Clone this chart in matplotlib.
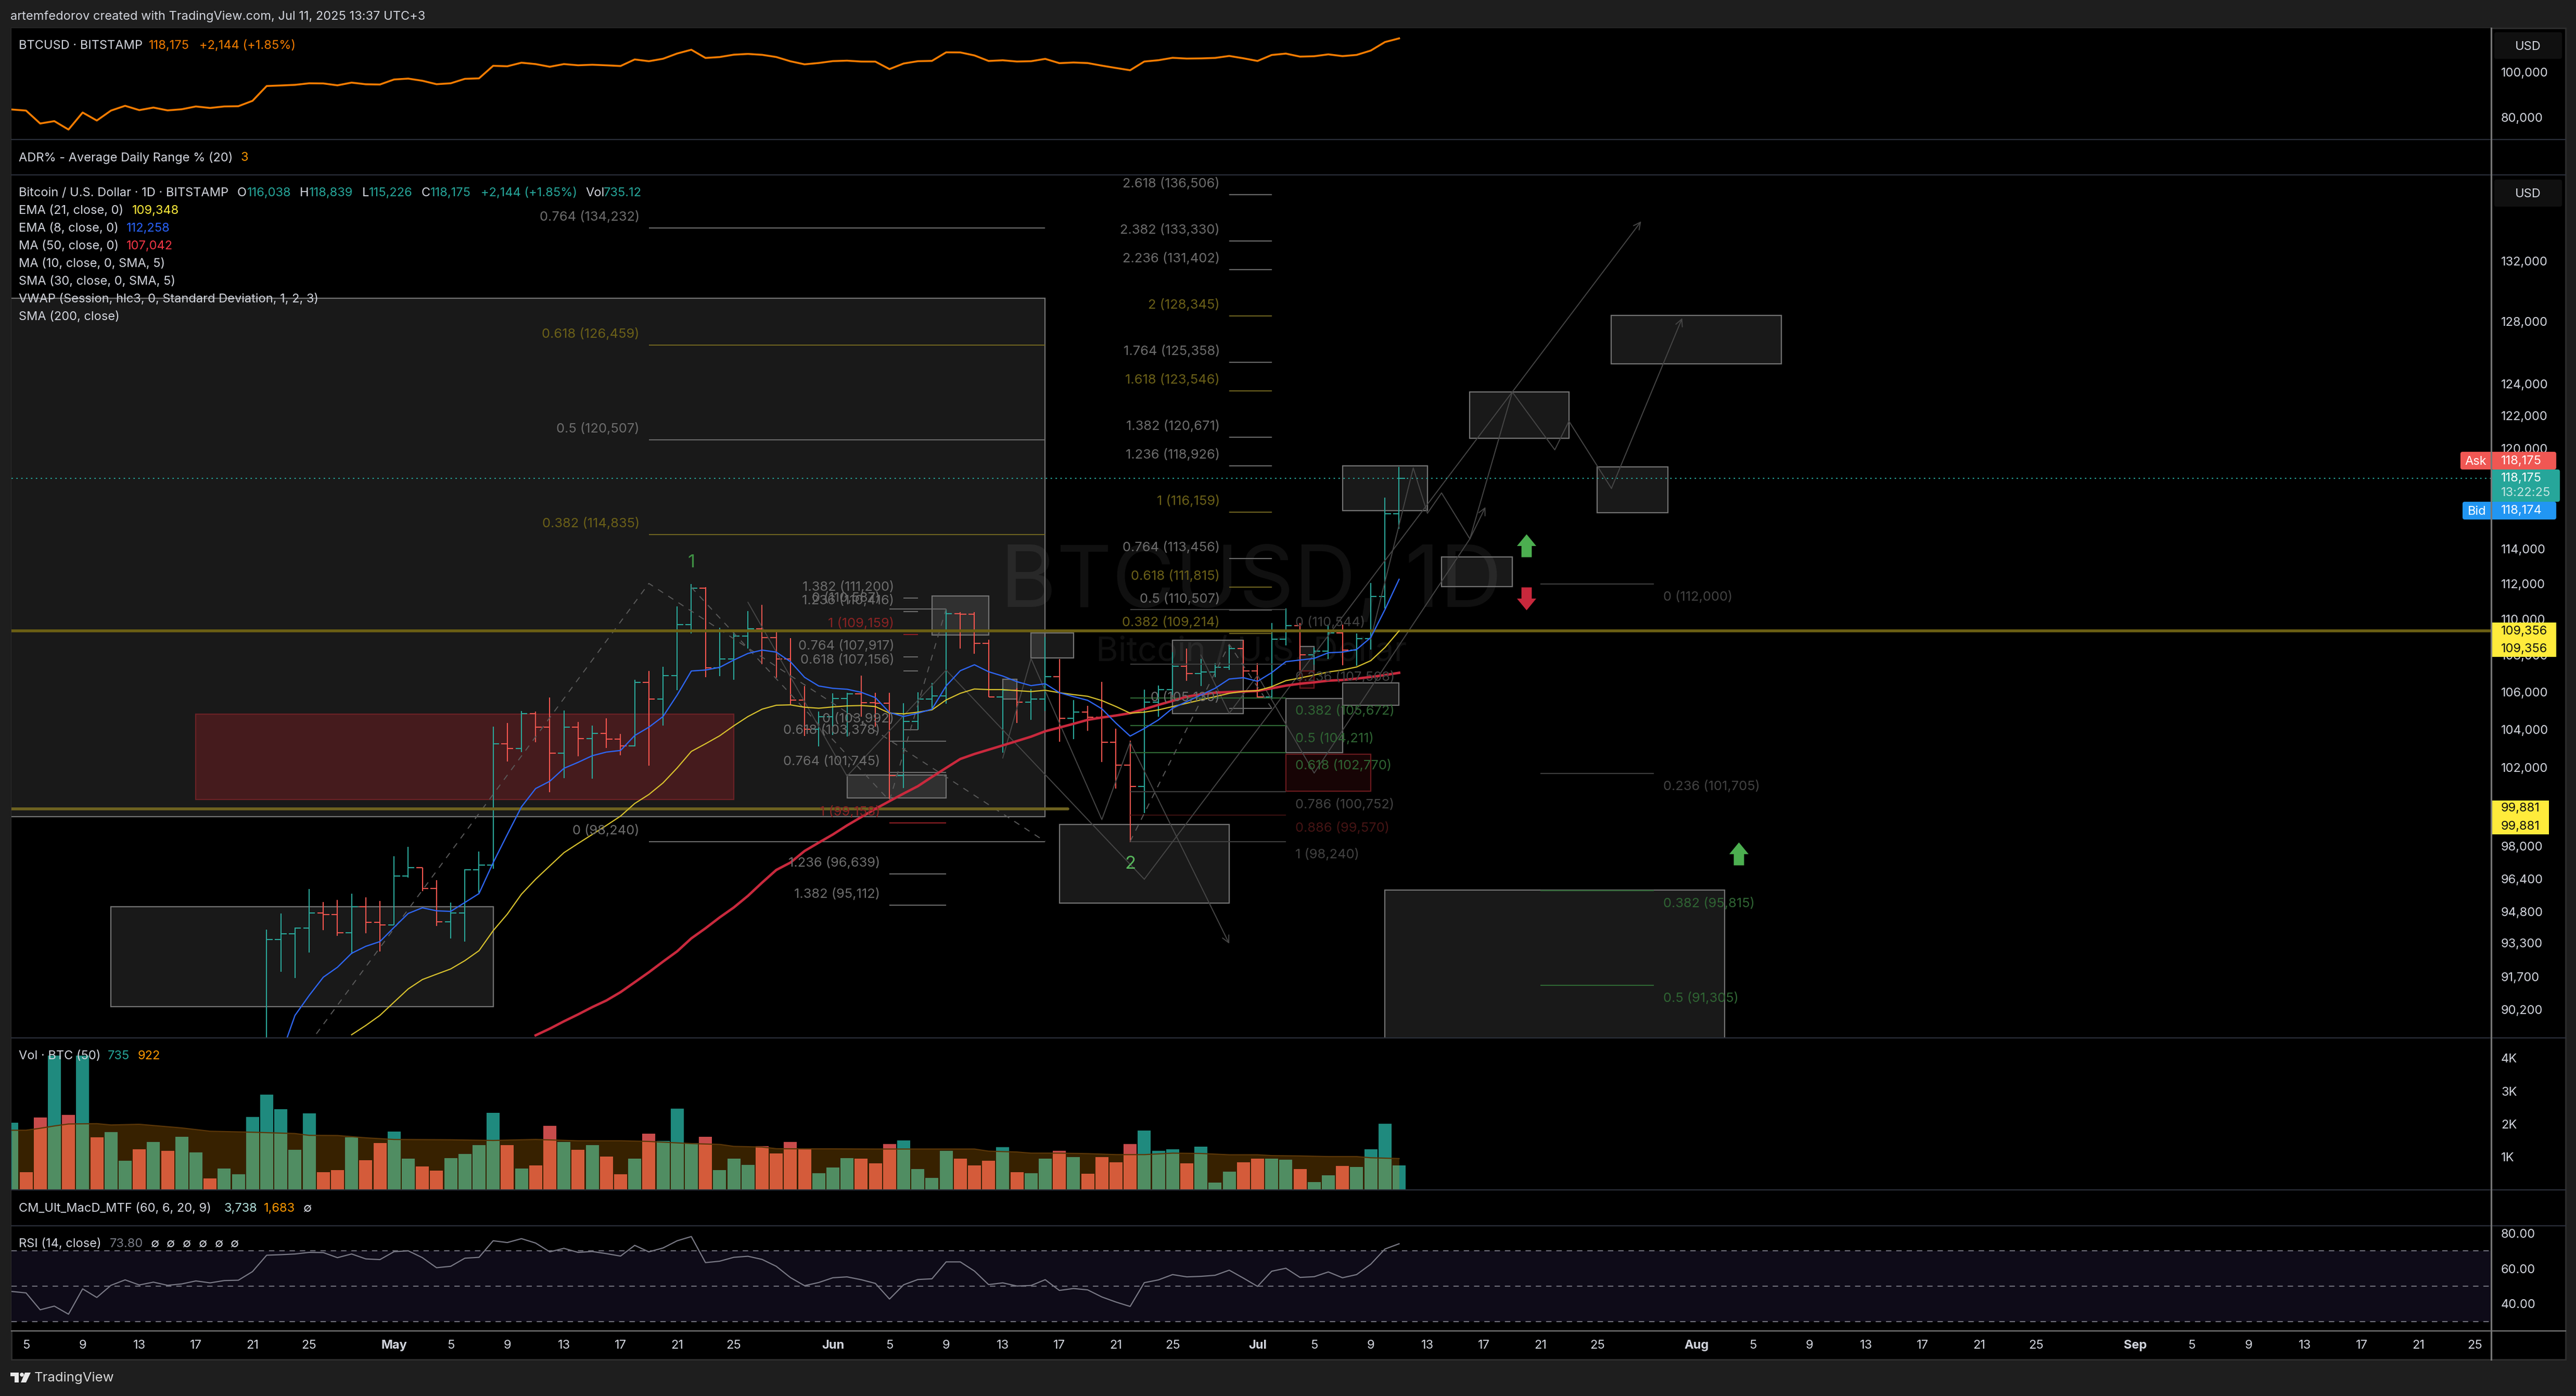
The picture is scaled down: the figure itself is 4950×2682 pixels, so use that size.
import numpy as np
import matplotlib
matplotlib.use("Agg")
import matplotlib.pyplot as plt
from matplotlib.patches import Rectangle, FancyBboxPatch, Polygon, Circle
from matplotlib.path import Path
from matplotlib.ticker import NullLocator

plt.rcParams["font.family"] = ["Inter", "DejaVu Sans"]

W, H = 4950, 2682
FS = 17
FIB_FS = 18.3

# days are counted from Apr 5 2025 = 0
early_close = [83260, 82820, 77710, 78630, 75430, 82030, 78860, 82820, 84790, 83010,
               84060, 82900, 83360, 84520, 83890, 84520, 84620, 86890]

# daily bars Apr 22 .. Jul 11
bar_first_day = 17
bar_open = [87500, 93467, 93720, 94006, 94723, 94659, 93784, 95044, 94275, 94163,
            96518, 96941, 95913, 94307, 94723, 96826, 97056, 103248, 103002, 104830,
            104123, 102759, 104123, 103509, 103788, 103492, 103141, 106525, 105610, 106885,
            109685, 111740, 107320, 107790, 109056, 109460, 108982, 107810, 105575, 104000,
            104687, 105663, 105895, 105432, 105397, 101587, 104422, 105610, 105786, 110315,
            110280, 108655, 105735, 106095, 105450, 105610, 106830, 104600, 104937, 104650,
            103332, 102140, 101020, 105450, 106130, 107395, 106990, 107085, 107330, 108370,
            107140, 105740, 108890, 109640, 108020, 108225, 109230, 108290, 108930, 111290,
            116050]
bar_high = [93929, 94707, 94038, 95881, 95268, 95364, 95652, 95492, 95300, 97500,
            97962, 96941, 96320, 95236, 96859, 97731, 104158, 104334, 104990, 104955,
            105720, 105006, 104386, 104192, 104580, 103753, 106652, 107140, 107375, 110727,
            112000, 111817, 109533, 109420, 110464, 110802, 109297, 108945, 106327, 104955,
            105930, 105966, 106885, 105966, 105966, 105397, 105985, 106490, 110560, 110410,
            110410, 108855, 106220, 106220, 106167, 109000, 107790, 105575, 105273, 106543,
            104033, 103405, 106130, 106363, 108175, 108360, 107810, 107570, 108550, 108820,
            107560, 109800, 110600, 109780, 108420, 109700, 109700, 109220, 112040, 117015,
            118850]
bar_low = [87300, 91948, 91654, 92853, 93913, 93641, 92775, 93753, 92900, 94163,
           96452, 95800, 94115, 93515, 93358, 95720, 96892, 102310, 102794, 103315,
           100730, 101467, 102586, 101415, 103020, 102637, 103108, 102102, 104195, 106112,
           109204, 106795, 106866, 106650, 108375, 107520, 106776, 105290, 103666, 103108,
           103720, 103631, 104687, 104158, 100390, 100955, 103980, 105100, 105360, 108375,
           108086, 105735, 102776, 104350, 104510, 104990, 103350, 103490, 103930, 102295,
           100918, 98210, 99670, 104670, 105840, 106595, 106327, 106814, 107200, 106750,
           105720, 105620, 108550, 107200, 107490, 107790, 107450, 107420, 108310, 110600,
           115170]
bar_close = [93467, 93720, 94006, 94723, 94659, 93784, 95044, 94275, 94163, 96518,
             96941, 95913, 94307, 94723, 96826, 97056, 103248, 103002, 104830, 104123,
             102759, 104123, 103509, 103788, 103492, 103141, 106525, 105610, 106885, 109685,
             111740, 107320, 107790, 109056, 109460, 108982, 107810, 105575, 104000, 104687,
             105663, 105895, 105432, 105397, 101587, 104422, 105610, 105786, 110315, 110280,
             108655, 105735, 106095, 105450, 105610, 106830, 104600, 104937, 104650, 103332,
             102140, 101020, 105450, 106130, 107395, 106990, 107085, 107330, 108370, 107140,
             105740, 108890, 109640, 108020, 108225, 109230, 108290, 108930, 111290, 116050,
             118175]

ema8_first_day = 18
ema8 = [88110, 89920, 90835, 91685, 92150, 92806, 93137, 93360, 94040, 94707,
        94980, 94835, 94805, 95236, 95670, 97185, 98590, 99985, 100920, 101295,
        101965, 102275, 102620, 102810, 102895, 103680, 104120, 104685, 105840, 107140,
        107193, 107340, 107740, 108102, 108285, 108175, 107650, 106795, 106327, 106200,
        106150, 105985, 105700, 104900, 104690, 104865, 105080, 106330, 107155, 107480,
        107100, 106865, 106560, 106345, 106450, 105965, 105750, 105555, 105100, 104335,
        103650, 104050, 104510, 105130, 105485, 105840, 106200, 106705, 106775, 106580,
        107050, 107650, 107740, 107830, 108140, 108175, 108320, 108980, 110540, 112258]

ema21_first_day = 23
ema21 = [89040, 89460, 89920, 90530, 91140, 91575, 91825, 92070, 92460, 92930,
         93880, 94675, 95640, 96370, 97025, 97680, 98140, 98590, 99045, 99515,
         100155, 100615, 101210, 101985, 102845, 103245, 103665, 104195, 104685, 105080,
         105290, 105310, 105185, 105130, 105200, 105255, 105275, 105220, 104865, 104830,
         104920, 105040, 105575, 105930, 106165, 106130, 106130, 106075, 106025, 106095,
         105965, 105860, 105770, 105540, 105220, 104865, 104920, 105040, 105220, 105397,
         105575, 105750, 105930, 106040, 106075, 106290, 106615, 106760, 106920, 107085,
         107195, 107360, 107705, 108430, 109348]

ma50_first_day = 36
ma50 = [89013, 89315, 89650, 89965, 90300, 90605, 90990, 91450, 91915, 92415,
        92900, 93515, 93995, 94515, 94995, 95560, 96205, 96825, 97190, 97765,
        98180, 98590, 99045, 99465, 99885, 100275, 100665, 101040, 101520, 101985,
        102450, 102710, 102935, 103160, 103390, 103620, 103905, 104100, 104300, 104510,
        104635, 104740, 104865, 105080, 105310, 105525, 105750, 105875, 105965, 106000,
        106025, 106060, 106200, 106345, 106450, 106525, 106615, 106650, 106725, 106815,
        106920, 107042]

# Apr 4 .. Jul 11
volume = [2043, 544, 2199, 4080, 2277, 4080, 1598, 1760, 877, 1237,
          1456, 1188, 1619, 1145, 354, 650, 481, 2213, 2892, 2453,
          1223, 2326, 544, 608, 1598, 905, 1414, 1775, 940, 714,
          587, 969, 1096, 1365, 2340, 1365, 650, 749, 1944, 1456,
          1209, 1365, 1018, 481, 940, 1711, 1492, 2467, 1414, 1619,
          608, 940, 764, 1329, 1110, 1456, 1237, 509, 672, 969,
          954, 813, 1393, 1506, 636, 368, 1188, 954, 749, 877,
          1301, 544, 509, 954, 1188, 997, 495, 997, 841, 1393,
          1803, 1188, 1237, 813, 1315, 226, 559, 841, 940, 940,
          919, 636, 240, 445, 728, 700, 1237, 2008, 735]
vol_up_flags = [1, 0, 0, 1, 0, 1, 0, 1, 1, 0,
                1, 0, 1, 1, 0, 1, 1, 1, 1, 1,
                1, 1, 0, 0, 1, 0, 0, 1, 1, 0,
                0, 1, 1, 1, 1, 0, 1, 0, 0, 1,
                0, 1, 0, 0, 1, 0, 1, 1, 1, 0,
                1, 1, 1, 0, 0, 0, 0, 1, 1, 1,
                0, 0, 0, 1, 1, 1, 1, 0, 0, 0,
                1, 0, 1, 1, 0, 1, 0, 0, 0, 0,
                1, 1, 1, 0, 1, 1, 1, 0, 0, 1,
                1, 0, 1, 1, 0, 1, 1, 1, 1]
vol_ma_days = [-1, 0, 1, 2, 3, 5, 6, 8, 11, 13, 16, 19, 20, 22, 24, 26, 30, 33, 36, 39, 42, 44,
               47, 49, 50, 52, 53, 55, 57, 60, 63, 66, 67, 68, 70, 71, 73, 75, 77, 79, 81, 83,
               85, 87, 88, 90, 92, 94, 95, 97]
vol_ma = [1810, 1810, 1870, 1940, 2000, 2010, 1970, 1990, 1880, 1780, 1750, 1710, 1655, 1650,
          1580, 1530, 1520, 1500, 1530, 1490, 1490, 1470, 1405, 1380, 1320, 1300, 1250, 1245,
          1245, 1240, 1240, 1240, 1240, 1175, 1150, 1115, 1115, 1100, 1070, 1070, 1115, 1105,
          1065, 1065, 1040, 1030, 1010, 1010, 975, 950]

rsi = [47.0, 46.2, 36.6, 38.7, 34.1, 48.5, 43.6, 50.5, 53.6, 50.7,
       52.3, 50.5, 51.3, 53.0, 51.9, 53.2, 53.4, 58.3, 67.6, 67.9,
       68.3, 69.2, 69.1, 66.2, 68.3, 65.5, 65.1, 69.6, 70.1, 66.2,
       60.5, 61.3, 65.9, 66.4, 75.8, 74.8, 77.0, 74.5, 69.5, 71.5,
       69.2, 69.7, 68.5, 67.1, 73.2, 69.5, 71.7, 75.8, 78.2, 63.4,
       64.2, 66.4, 67.0, 65.2, 61.3, 54.9, 50.3, 52.1, 54.8, 55.3,
       53.7, 51.6, 42.7, 50.8, 53.8, 54.2, 63.8, 63.8, 58.6, 50.9,
       51.9, 50.1, 50.4, 53.7, 47.6, 48.7, 47.9, 43.9, 41.0, 38.5,
       52.0, 53.6, 56.6, 55.3, 55.6, 56.2, 59.1, 54.6, 49.9, 58.5,
       60.2, 55.0, 55.4, 58.1, 54.8, 56.6, 62.5, 71.1, 74.1]

main_ticks = [132000, 128000, 124000, 122000, 120000, 114000, 112000, 110000, 108000, 106000,
              104000, 102000, 98000, 96400, 94800, 93300, 91700, 90200]
top_ticks = [100000, 80000]
vol_ticks = [1000, 2000, 3000, 4000]
vol_tick_labels = ["1K", "2K", "3K", "4K"]
rsi_ticks = [80, 60, 40]
time_ticks = [0, 4, 8, 12, 16, 20, 26, 30, 34, 38, 42, 46, 50, 57, 61, 65, 69, 73, 77, 81,
              87, 91, 95, 99, 103, 107, 111, 118, 122, 126, 130, 134, 138, 142,
              149, 153, 157, 161, 165, 169, 173]
time_labels = ["5", "9", "13", "17", "21", "25", "May", "5", "9", "13", "17", "21", "25",
               "Jun", "5", "9", "13", "17", "21", "25", "Jul", "5", "9", "13", "17", "21", "25",
               "Aug", "5", "9", "13", "17", "21", "25", "Sep", "5", "9", "13", "17", "21", "25"]

# fib drawings: level, price, colour kind
fib_a_levels = ["0.764", "0.618", "0.5", "0.382", "0"]
fib_a_prices = [134232, 126459, 120507, 114835, 98240]
fib_a_kinds = ["g", "o", "g", "o", "g"]
fib_b_levels = ["0", "0.618", "0.764", "1", "1.236", "1.382"]
fib_b_prices = [110587, 103378, 101745, 99158, 96639, 95112]
fib_b_kinds = ["g", "g", "g", "r", "g", "g"]
fib_c_levels = ["1.382", "1.236", "1", "0.764", "0.618", "0"]
fib_c_prices = [111200, 110416, 109159, 107917, 107156, 103992]
fib_c_kinds = ["g", "g", "r", "g", "g", "g"]
fib_d_levels = ["2.618", "2.382", "2.236", "2", "1.764", "1.618", "1.382", "1.236", "1",
                "0.764", "0.618", "0.5", "0.382", "0"]
fib_d_prices = [136506, 133330, 131402, 128345, 125358, 123546, 120671, 118926, 116159,
                113456, 111815, 110507, 109214, 105130]
fib_d_kinds = ["g", "g", "g", "o", "g", "o", "g", "g", "o", "g", "o", "g", "o", "g"]
fib_e_levels = ["0", "0.236", "0.382", "0.5", "0.618", "0.786", "0.886", "1"]
fib_e_prices = [110544, 107508, 105672, 104211, 102770, 100752, 99570, 98240]
fib_e_kinds = ["d", "d", "n", "n", "n", "d", "x", "d"]
fib_f_levels = ["0", "0.236", "0.382", "0.5"]
fib_f_prices = [112000, 101705, 95815, 91305]
fib_f_kinds = ["d", "d", "n", "n"]

# boxes: day from, day to, price top, price bottom
gray_boxes = [(-3, 72, 129507, 99474), (6, 33, 95027, 90318), (64, 68, 111300, 109110),
              (69, 70, 106700, 105610), (71, 74, 109230, 107850), (58, 65, 101610, 100430),
              (73, 85, 99100, 95200), (81, 86, 108830, 104830), (90, 91, 108480, 107130),
              (89, 93, 105640, 102770), (93, 97, 106480, 105280), (93, 99, 118920, 116240),
              (100, 105, 113530, 111830), (102, 109, 123480, 120600), (112, 124, 128380, 125250),
              (111, 116, 118860, 116120), (96, 120, 95830, 88000)]
red_boxes = [(12, 50, 104813, 100358), (90, 91, 107130, 106200), (89, 95, 102700, 100780)]

# wave sketches
path_1_days = [69, 71, 76, 78, 85]
path_1_prices = [102500, 107820, 99340, 103320, 93260]
path_2_days = [51, 58, 65, 79, 114.1]
path_2_prices = [110950, 101560, 107190, 96370, 134680]
path_3_days = [83, 85, 87, 91, 102, 105, 108, 109, 112, 117]
path_3_prices = [108010, 104860, 106900, 101720, 114590, 123480, 119900, 121660, 117570, 128210]
path_4_days = [95, 98, 99, 100, 102, 103.1]
path_4_prices = [108910, 118800, 116090, 117300, 114590, 116460]
dash_1_days = [20, 44, 72]
dash_1_prices = [88640, 112020, 98240]
dash_2_days = [47, 61, 65]
dash_2_prices = [111800, 100300, 110587]
dash_3_days = [78, 85, 88]
dash_3_prices = [98240, 108600, 105130]

fig = plt.figure(figsize=(W / 100, H / 100), dpi=100, facecolor="#1e1e1e")


def add_panel(top, bottom):
    ax = fig.add_axes([22 / W, 1 - bottom / H, (4787 - 22) / W, (bottom - top) / H], zorder=2)
    ax.set_facecolor("black")
    for s in ax.spines.values():
        s.set_visible(False)
    ax.set_xlim(-1.03, 174.15)
    ax.set_xticks([])
    ax.yaxis.tick_right()
    ax.tick_params(axis="y", length=0, pad=13.7, labelsize=FS, labelcolor="#d1d4dc")
    return ax


ax_top = add_panel(54, 268)
ax_adr = add_panel(268, 336)
ax = add_panel(336, 1994)
ax_vol = add_panel(1994, 2286)
ax_macd = add_panel(2286, 2355)
ax_rsi = add_panel(2355, 2557)
for a in [ax_adr, ax_macd]:
    a.set_yticks([])

# top line
ax_top.set_yscale("log")
ax_top.set_ylim(71830, 124300)
ax_top.yaxis.set_minor_locator(NullLocator())
all_close = early_close + bar_close
ax_top.plot(np.arange(-1, -1 + len(all_close)), all_close, color="#f57c00", lw=2.6)
ax_top.set_yticks(top_ticks)
ax_top.set_yticklabels([f"{t:,}" for t in top_ticks])

# main panel
ax.set_yscale("log")
ax.set_ylim(88897, 137900)
ax.yaxis.set_minor_locator(NullLocator())
ax.set_yticks(main_ticks)
ax.set_yticklabels([f"{t:,}" for t in main_ticks])

ax.text(0.5, 0.5253, "BTCUSD, 1D", transform=ax.transAxes, ha="center", va="center",
        fontsize=119, color="#101010", zorder=0)
ax.text(0.5, 0.447, "Bitcoin / U.S. Dollar", transform=ax.transAxes, ha="center", va="center",
        fontsize=47, color="#101010", zorder=0)

for d0, d1, p_top, p_bot in gray_boxes:
    ax.add_patch(Rectangle((d0, p_bot), d1 - d0, p_top - p_bot, facecolor=(1, 1, 1, 0.1),
                           edgecolor="#737373", lw=1.6, zorder=2))
ax.add_patch(Rectangle((red_boxes[0][0], red_boxes[0][3]), red_boxes[0][1] - red_boxes[0][0],
                       red_boxes[0][2] - red_boxes[0][3], facecolor=(0.75, 0.13, 0.17, 0.27),
                       edgecolor="#6b2226", lw=1.6, zorder=2))
for d0, d1, p_top, p_bot in red_boxes[1:]:
    ax.add_patch(Rectangle((d0, p_bot), d1 - d0, p_top - p_bot, facecolor=(0.75, 0.13, 0.17, 0.12),
                           edgecolor="#6b1a1e", lw=1.6, zorder=2))

# ohlc bars
bar_days = np.arange(bar_first_day, bar_first_day + len(bar_close))
bar_cols = ["#2ba89b" if c >= o else "#f7564f" for o, c in zip(bar_open, bar_close)]
ax.vlines(bar_days, bar_low, bar_high, colors=bar_cols, lw=1.5, zorder=3)
ax.hlines(bar_open, bar_days - 0.42, bar_days, colors=bar_cols, lw=1.5, zorder=3)
ax.hlines(bar_close, bar_days, bar_days + 0.42, colors=bar_cols, lw=1.5, zorder=3)

ax.plot(np.arange(ma50_first_day, ma50_first_day + len(ma50)), ma50, color="#c9293d", lw=3.4, zorder=4)
ax.plot(np.arange(ema21_first_day, ema21_first_day + len(ema21)), ema21, color="#d8c22e", lw=1.6, zorder=4)
ax.plot(np.arange(ema8_first_day, ema8_first_day + len(ema8)), ema8, color="#2e66f5", lw=1.7, zorder=4)

# levels
ax.axhline(109356, color="#6b5f14", lw=4, zorder=3.5)
ax.plot([-1.03, 73.6], [99881, 99881], color="#6e6220", lw=4, solid_capstyle="round", zorder=3.5)
ax.axhline(118175, color="#26a69a", lw=1.5, ls=(0, (1.3, 3.2)), zorder=3.5)

kind_line = {"g": "#6a6a6a", "o": "#6e6320", "r": "#8f1f25", "d": "#3e3e3e", "n": "#2f6a35", "x": "#3c1010"}
kind_text = {"g": "#6d6d6d", "o": "#6b6018", "r": "#8a2323", "d": "#424242", "n": "#2f6433", "x": "#451414"}


def draw_fib(levels, prices, kinds, d0, d1, side):
    for lv, p, k in zip(levels, prices, kinds):
        ax.plot([d0, d1], [p, p], color=kind_line[k], lw=1.5, zorder=3, solid_capstyle="butt")
        if side == "left":
            ax.annotate(f"{lv} ({p:,})", xy=(d0, p), xytext=(-18, 21), textcoords="offset pixels",
                        ha="right", va="center", fontsize=FIB_FS, color=kind_text[k], zorder=6)
        else:
            ax.annotate(f"{lv} ({p:,})", xy=(d1, p), xytext=(18, -25), textcoords="offset pixels",
                        ha="left", va="center", fontsize=FIB_FS, color=kind_text[k], zorder=6)


draw_fib(fib_a_levels, fib_a_prices, fib_a_kinds, 44, 72, "left")
draw_fib(fib_b_levels, fib_b_prices, fib_b_kinds, 61, 65, "left")
draw_fib(fib_c_levels, fib_c_prices, fib_c_kinds, 62, 63, "left")
draw_fib(fib_d_levels, fib_d_prices, fib_d_kinds, 85, 88, "left")
draw_fib(fib_e_levels, fib_e_prices, fib_e_kinds, 78, 89, "right")
draw_fib(fib_f_levels, fib_f_prices, fib_f_kinds, 107, 115, "right")

for ds, ps in [(dash_1_days, dash_1_prices), (dash_2_days, dash_2_prices), (dash_3_days, dash_3_prices)]:
    ax.plot(ds, ps, color="#5a5a5a", lw=1.4, ls=(0, (6, 6)), zorder=3.2)
for ds, ps in [(path_1_days, path_1_prices), (path_2_days, path_2_prices),
               (path_3_days, path_3_prices), (path_4_days, path_4_prices)]:
    ax.plot(ds[:-1], ps[:-1], color="#464646", lw=1.4, zorder=3.2)
    ax.annotate("", xy=(ds[-1], ps[-1]), xytext=(ds[-2], ps[-2]),
                arrowprops=dict(arrowstyle="->", color="#464646", lw=1.4, mutation_scale=24,
                                shrinkA=0, shrinkB=0), zorder=3.2)

arrow_up = Path([(0, 1), (0.84, -0.02), (0.45, -0.02), (0.45, -1), (-0.45, -1), (-0.45, -0.02),
                 (-0.84, -0.02), (0, 1)])
arrow_down = Path([(0, -1), (0.84, 0.02), (0.45, 0.02), (0.45, 1), (-0.45, 1), (-0.45, 0.02),
                   (-0.84, 0.02), (0, -1)])
ax.plot([106, 121], [114190, 97630], ls="none", marker=arrow_up, ms=31.7, color="#4caf50", mew=0, zorder=6)
ax.plot([106], [111160], ls="none", marker=arrow_down, ms=31.7, color="#c8283c", mew=0, zorder=6)
ax.text(47, 113210, "1", color="#3f9143", fontsize=25, ha="center", va="center", zorder=6)
ax.text(78, 97110, "2", color="#57b55b", fontsize=25, ha="center", va="center", zorder=6)

# volume
ax_vol.set_ylim(0, 4613)
vol_days = np.arange(-1, -1 + len(volume))
ax_vol.bar(vol_days, volume, width=0.92, color=["#1f8a7e" if u else "#c84b4b" for u in vol_up_flags], zorder=2)
ax_vol.fill_between(vol_ma_days, 0, vol_ma, color="#ff9800", alpha=0.22, lw=0, zorder=3)
ax_vol.plot(vol_ma_days, vol_ma, color="#5c3708", lw=1.6, zorder=3)
ax_vol.set_yticks(vol_ticks)
ax_vol.set_yticklabels(vol_tick_labels)

# rsi
ax_rsi.set_ylim(24.6, 84.3)
ax_rsi.axhspan(30, 70, color="#0e0b18", lw=0, zorder=1)
for lv in [70, 50, 30]:
    ax_rsi.axhline(lv, color="#6f6f7a", lw=1.5, ls=(0, (5, 4.5)), zorder=2)
ax_rsi.plot(np.arange(-1, -1 + len(rsi)), rsi, color="#7a7a86", lw=1.6, zorder=3)
ax_rsi.set_yticks(rsi_ticks)
ax_rsi.set_yticklabels([f"{t:.2f}" for t in rsi_ticks])
ax_rsi.set_xticks(time_ticks)
ax_rsi.set_xticklabels(time_labels)
ax_rsi.tick_params(axis="x", length=0, pad=12, labelsize=FS, labelcolor="#d1d4dc")
for lab in ax_rsi.get_xticklabels():
    if lab.get_text() in ("May", "Jun", "Jul", "Aug", "Sep"):
        lab.set_fontweight("bold")

# chrome on top, in image pixels
ov = fig.add_axes([0, 0, 1, 1], zorder=5)
ov.set_xlim(0, W)
ov.set_ylim(H, 0)
ov.axis("off")
bg = fig.add_axes([0, 0, 1, 1], zorder=1)
bg.set_xlim(0, W)
bg.set_ylim(H, 0)
bg.axis("off")
bg.add_patch(Rectangle((22, 54), 4930 - 22, 2612 - 54, facecolor="black", edgecolor="#2e2e2e", lw=2))

for y in [268, 336, 1994, 2286, 2355]:
    ov.plot([22, 4930], [y, y], color="#2a2e39", lw=1.6)
ov.plot([22, 4930], [2557, 2557], color="#787878", lw=1.6)
ov.plot([4787, 4787], [54, 2612], color="#787878", lw=2.2)


def txt(x, y, s, color="#d1d4dc", ha="left", size=FS):
    ov.text(x, y + 2, s, color=color, ha=ha, va="center", fontsize=size)


def badge(x0, x1, y0, y1, color):
    ov.add_patch(FancyBboxPatch((x0 + 4, y0 + 4), x1 - x0 - 8, y1 - y0 - 8, boxstyle="round,pad=4,rounding_size=4",
                                facecolor=color, edgecolor="none"))


txt(20, 30, "artemfedorov created with TradingView.com, Jul 11, 2025 13:37 UTC+3")
txt(36, 86, "BTCUSD · BITSTAMP")
txt(286, 86, "118,175", "#f57c00")
txt(383, 86, "+2,144 (+1.85%)", "#f57c00")
txt(36, 301, "ADR% - Average Daily Range % (20)")
txt(462, 301, "3", "#ff9800")

teal = "#26a69a"
txt(36, 369, "Bitcoin / U.S. Dollar · 1D · BITSTAMP")
for x, s, c in [(456, "O", "#d1d4dc"), (475, "116,038", teal), (576, "H", "#d1d4dc"), (594, "118,839", teal),
                (696, "L", "#d1d4dc"), (709, "115,226", teal), (810, "C", "#d1d4dc"), (827, "118,175", teal),
                (924, "+2,144 (+1.85%)", teal), (1125, "Vol", "#d1d4dc"), (1160, "735.12", teal)]:
    txt(x, 369, s, c)
txt(36, 403, "EMA (21, close, 0)")
txt(254, 403, "109,348", "#ffeb3b")
txt(36, 437, "EMA (8, close, 0)")
txt(243, 437, "112,258", "#2962ff")
txt(36, 471, "MA (50, close, 0)")
txt(243, 471, "107,042", "#f23645")
txt(36, 505, "MA (10, close, 0, SMA, 5)")
txt(36, 539, "SMA (30, close, 0, SMA, 5)")
txt(36, 573, "VWAP (Session, hlc3, 0, Standard Deviation, 1, 2, 3)")
txt(36, 607, "SMA (200, close)")

txt(36, 2027, "Vol · BTC (50)")
txt(207, 2027, "735", teal)
txt(265, 2027, "922", "#ff9800")
txt(36, 2320, "CM_Ult_MacD_MTF (60, 6, 20, 9)")
txt(430, 2320, "3,738", "#b2dfdb")
txt(507, 2320, "1,683", "#ff9800")
txt(583, 2320, "∅")
txt(36, 2388, "RSI (14, close)")
txt(211, 2388, "73.80", "#787b86")
for x in [298, 328, 359, 390, 421, 451]:
    txt(x, 2388, "∅", ha="center")

# usd badges
for y0, y1 in [(62, 113), (345, 397)]:
    badge(4793, 4923, y0, y1, "#101010")
    txt(4858, (y0 + y1) / 2, "USD", ha="center")

# price badges
badge(4728, 4912, 868, 902, "#f05753")
badge(4787, 4919, 902, 964, "#26a69a")
badge(4732, 4912, 964, 998, "#2196f3")
txt(4757, 885, "Ask", "white", "center")
txt(4806, 884, "118,175", "white")
txt(4806, 917, "118,175", "white")
txt(4806, 945, "13:22:25", "#c5e5e1")
txt(4760, 981, "Bid", "white", "center")
txt(4806, 979, "118,174", "white")
ov.plot([4787, 4787], [868, 998], color="#787878", lw=2.2)

ov.add_patch(Rectangle((4788, 1196), 4912 - 4788, 66, facecolor="#ffeb3b", edgecolor="none"))
ov.add_patch(Rectangle((4788, 1538), 4898 - 4788, 65, facecolor="#ffeb3b", edgecolor="none"))
txt(4806, 1211, "109,356", "#111111")
txt(4806, 1245, "109,356", "#111111")
txt(4806, 1551, "99,881", "#111111")
txt(4806, 1586, "99,881", "#111111")

# footer logo
ov.add_patch(Polygon([(20, 2637), (36, 2637), (36, 2656), (28, 2656), (28, 2644), (20, 2644)], facecolor="#e8e8e8"))
ov.add_patch(Circle((42, 2641), 3.8, facecolor="#e8e8e8"))
ov.add_patch(Polygon([(48, 2637), (59, 2637), (50, 2656), (40, 2656)], facecolor="#e8e8e8"))
txt(66, 2645, "TradingView", "#d8d8d8", size=18.5)

fig.savefig("out.png", dpi=100, facecolor=fig.get_facecolor())
